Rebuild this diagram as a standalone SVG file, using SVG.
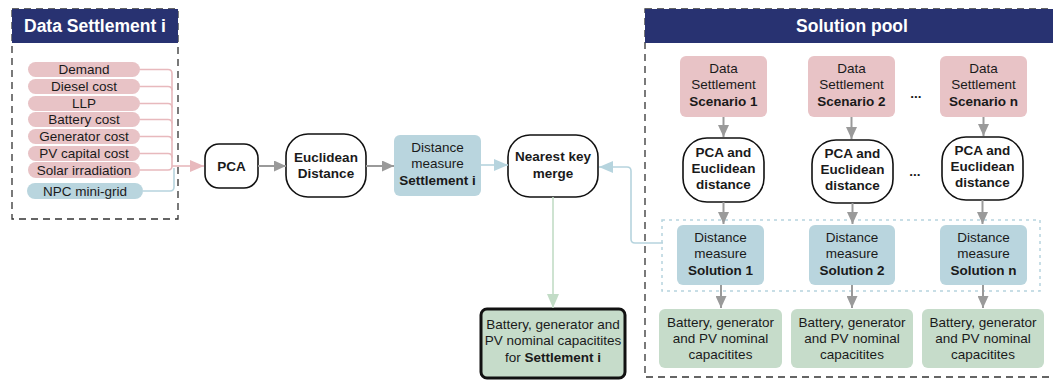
<svg xmlns="http://www.w3.org/2000/svg" width="1053" height="380" viewBox="0 0 1053 380">
<style>
text{font-family:"Liberation Sans",Arial,sans-serif;font-size:13.5px;fill:#1a1a1a;text-anchor:middle}
.b{font-weight:bold}
.hdr{font-weight:bold;font-size:17.5px;fill:#fff}
.pink{fill:#e8c3c6}
.blue{fill:#b9d5de}
.green{fill:#c6dcca}
.term{fill:#fff;stroke:#111;stroke-width:1.6}
.panel{fill:none;stroke:#333;stroke-width:1.3;stroke-dasharray:7 5}
.cg{fill:none;stroke:#9a9a9a;stroke-width:2;marker-end:url(#ag)}
.cp{fill:none;stroke:#e8b9bd;stroke-width:1.6}
.cb{fill:none;stroke:#b6d4de;stroke-width:1.6}
.cgr{fill:none;stroke:#c2dcc6;stroke-width:1.6}
</style>
<defs>
<marker id="ag" markerUnits="userSpaceOnUse" markerWidth="12" markerHeight="11" refX="12" refY="5.5" orient="auto"><path d="M0,0 L12,5.5 L0,11 z" fill="#9a9a9a"/></marker>
<marker id="ap" markerUnits="userSpaceOnUse" markerWidth="14" markerHeight="12" refX="14" refY="6" orient="auto"><path d="M0,0 L14,6 L0,12 z" fill="#e8b9bd"/></marker>
<marker id="ab" markerUnits="userSpaceOnUse" markerWidth="14" markerHeight="12" refX="14" refY="6" orient="auto"><path d="M0,0 L14,6 L0,12 z" fill="#b6d4de"/></marker>
<marker id="agr" markerUnits="userSpaceOnUse" markerWidth="12" markerHeight="14" refX="14" refY="6" orient="auto"><path d="M0,0 L14,6 L0,12 z" fill="#c2dcc6"/></marker>
</defs>

<g id="panel-left">
<rect x="12" y="9" width="166" height="210" class="panel"/>
<rect x="12" y="9" width="166" height="34" fill="#283271"/>
<text x="95" y="32" class="hdr">Data Settlement i</text>
</g>

<g id="panel-right">
<rect x="645" y="9" width="420" height="368" class="panel"/>
<rect x="645" y="9" width="408" height="34" fill="#283271"/>
<text x="852" y="32" class="hdr">Solution pool</text>
<rect x="662" y="220" width="378" height="71" fill="none" stroke="#b6d4de" stroke-width="1.5" stroke-dasharray="3 4"/>
<text x="916" y="98" class="b">...</text>
<text x="915" y="176" class="b">...</text>
</g>

<g id="inputs">
<rect x="28" y="62" width="112" height="15" rx="7.5" class="pink"/><text x="84" y="74">Demand</text>
<rect x="28" y="79" width="112" height="15" rx="7.5" class="pink"/><text x="84" y="91">Diesel cost</text>
<rect x="28" y="96" width="112" height="15" rx="7.5" class="pink"/><text x="84" y="108">LLP</text>
<rect x="28" y="112" width="112" height="15" rx="7.5" class="pink"/><text x="84" y="124">Battery cost</text>
<rect x="28" y="129" width="112" height="15" rx="7.5" class="pink"/><text x="84" y="141">Generator cost</text>
<rect x="28" y="146" width="112" height="15" rx="7.5" class="pink"/><text x="84" y="158">PV capital cost</text>
<rect x="28" y="162" width="112" height="16" rx="8" class="pink"/><text x="84" y="175">Solar irradiation</text>
<rect x="27" y="183" width="116" height="16" rx="8" class="blue"/><text x="85" y="196">NPC mini-grid</text>
</g>

<g id="pca"><rect x="205" y="144" width="53" height="44" rx="14" class="term"/><text x="231.5" y="171" class="b">PCA</text></g>
<g id="euclid"><rect x="286" y="134" width="80" height="63" rx="22" class="term"/><text x="326" y="162" class="b">Euclidean</text><text x="326" y="178" class="b">Distance</text></g>
<g id="dist-i"><rect x="394" y="135" width="87" height="61" rx="6" class="blue"/><text x="437.5" y="152">Distance</text><text x="437.5" y="168">measure</text><text x="437.5" y="185" class="b">Settlement i</text></g>
<g id="merge"><rect x="508" y="135" width="90" height="62" rx="22" class="term"/><text x="553" y="161" class="b">Nearest key</text><text x="553" y="178" class="b">merge</text></g>
<g id="result"><rect x="481" y="309" width="144" height="69" rx="6" class="green" stroke="#111" stroke-width="3"/><text x="553" y="329">Battery, generator and</text><text x="553" y="345">PV nominal capacitites</text><text x="553" y="362">for <tspan class="b">Settlement i</tspan></text></g>

<g id="scen1"><rect x="680" y="56" width="87" height="61" rx="6" class="pink"/><text x="723.5" y="73">Data</text><text x="723.5" y="89">Settlement</text><text x="723.5" y="106" class="b">Scenario 1</text></g>
<g id="scen2"><rect x="808" y="56" width="87" height="61" rx="6" class="pink"/><text x="851.5" y="73">Data</text><text x="851.5" y="89">Settlement</text><text x="851.5" y="106" class="b">Scenario 2</text></g>
<g id="scenn"><rect x="940" y="56" width="87" height="61" rx="6" class="pink"/><text x="983.5" y="73">Data</text><text x="983.5" y="89">Settlement</text><text x="983.5" y="106" class="b">Scenario n</text></g>

<g id="pe1"><rect x="683" y="138" width="81" height="64" rx="24" class="term"/><text x="723.5" y="157" class="b">PCA and</text><text x="723.5" y="173" class="b">Euclidean</text><text x="723.5" y="189" class="b">distance</text></g>
<g id="pe2"><rect x="812" y="140" width="81" height="63" rx="24" class="term"/><text x="852.5" y="158" class="b">PCA and</text><text x="852.5" y="174" class="b">Euclidean</text><text x="852.5" y="190" class="b">distance</text></g>
<g id="pen"><rect x="942" y="137" width="81" height="63" rx="24" class="term"/><text x="982.5" y="155" class="b">PCA and</text><text x="982.5" y="171" class="b">Euclidean</text><text x="982.5" y="187" class="b">distance</text></g>

<g id="sol1"><rect x="677" y="225" width="87" height="60" rx="6" class="blue"/><text x="720.5" y="242">Distance</text><text x="720.5" y="258">measure</text><text x="720.5" y="275" class="b">Solution 1</text></g>
<g id="sol2"><rect x="809" y="225" width="86" height="60" rx="6" class="blue"/><text x="852" y="242">Distance</text><text x="852" y="258">measure</text><text x="852" y="275" class="b">Solution 2</text></g>
<g id="soln"><rect x="940" y="225" width="87" height="60" rx="6" class="blue"/><text x="983.5" y="242">Distance</text><text x="983.5" y="258">measure</text><text x="983.5" y="275" class="b">Solution n</text></g>

<g id="cap1"><rect x="659" y="309" width="123" height="59" rx="6" class="green"/><text x="720.5" y="327">Battery, generator</text><text x="720.5" y="343">and PV nominal</text><text x="720.5" y="359">capacitites</text></g>
<g id="cap2"><rect x="791" y="309" width="122" height="59" rx="6" class="green"/><text x="852" y="327">Battery, generator</text><text x="852" y="343">and PV nominal</text><text x="852" y="359">capacitites</text></g>
<g id="capn"><rect x="922" y="309" width="122" height="59" rx="6" class="green"/><text x="983" y="327">Battery, generator</text><text x="983" y="343">and PV nominal</text><text x="983" y="359">capacitites</text></g>

<g id="connectors">
<path class="cp" d="M140,69.5 H168 Q172,69.5 172,73.5 V166"/>
<path class="cp" d="M140,86.5 H168 Q172,86.5 172,90.5"/>
<path class="cp" d="M140,103.5 H168 Q172,103.5 172,107.5"/>
<path class="cp" d="M140,119.5 H168 Q172,119.5 172,123.5"/>
<path class="cp" d="M140,136.5 H168 Q172,136.5 172,140.5"/>
<path class="cp" d="M140,153.5 H168 Q172,153.5 172,157.5"/>
<path class="cp" d="M140,170 H168 Q172,170 172,166"/>
<path class="cp" d="M172,166 H204" marker-end="url(#ap)"/>
<path class="cb" d="M143,191 H170 Q174,191 174,187 V168"/>
<path class="cg" d="M258,166 H286"/>
<path class="cg" d="M366,166 H394"/>
<path class="cb" d="M481,165 H508" marker-end="url(#ab)"/>
<path class="cb" d="M663,243 H635 Q631,243 631,239 V171 Q631,167 627,167 H599" marker-end="url(#ab)"/>
<path class="cgr" d="M553,197 V308" marker-end="url(#agr)"/>
<path class="cg" d="M723.5,117 V137"/>
<path class="cg" d="M851.5,117 V139"/>
<path class="cg" d="M983.5,117 V136"/>
<path class="cg" d="M723.5,202 V224"/>
<path class="cg" d="M852.5,203 V224"/>
<path class="cg" d="M982.5,200 V224"/>
<path class="cg" d="M721,285 V308"/>
<path class="cg" d="M852,285 V308"/>
<path class="cg" d="M983,285 V308"/>
</g>
</svg>
